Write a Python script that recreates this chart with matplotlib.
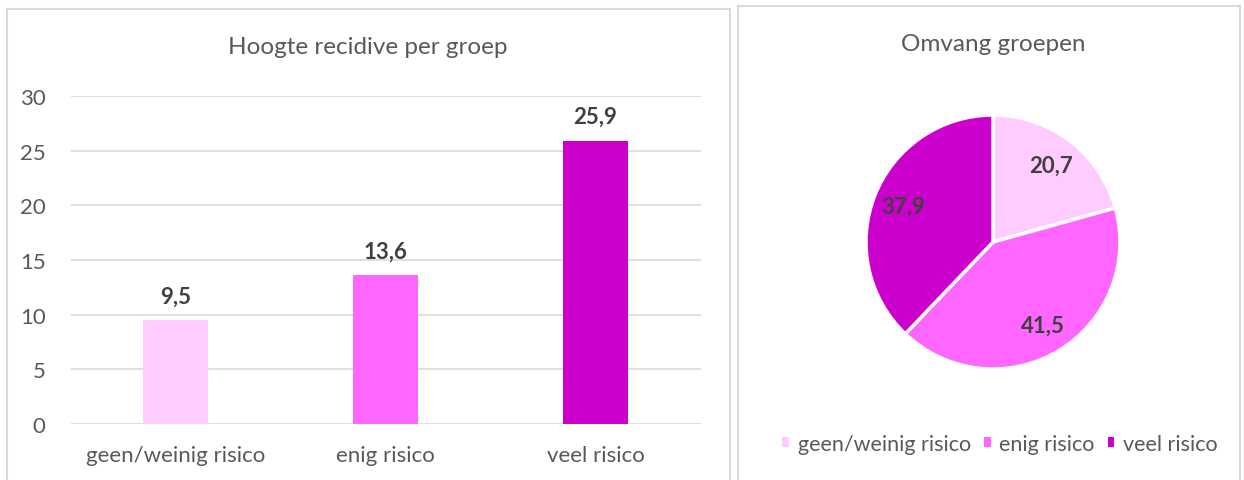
import matplotlib
matplotlib.use("Agg")
import matplotlib.pyplot as plt
from matplotlib.patches import Rectangle, Patch

plt.rcParams['font.family'] = ['Lato', 'DejaVu Sans']

categories = ["geen/weinig risico", "enig risico", "veel risico"]
recidive = [9.5, 13.6, 25.9]
omvang = [20.7, 41.5, 37.9]
colors = ["#FFCCFF", "#FF66FF", "#CC00CC"]
yticks = [0, 5, 10, 15, 20, 25, 30]

W, H = 1244, 481
fig = plt.figure(figsize=(W / 100, H / 100), dpi=100)

def fx(px):
    return px / W

def fy(py):
    return 1 - py / H

# panel borders
fig.add_artist(Rectangle((fx(7), fy(490)), fx(730 - 7), (490 - 10) / H,
                         transform=fig.transFigure, fill=False,
                         edgecolor="#D9D9D9", linewidth=1.5))
fig.add_artist(Rectangle((fx(738), fy(490)), fx(1240 - 738), (490 - 7) / H,
                         transform=fig.transFigure, fill=False,
                         edgecolor="#D9D9D9", linewidth=1.5))

text_col = "#595959"
label_col = "#404040"

# bar chart
ax = fig.add_axes([fx(70.5), fy(425), fx(630), 328 / H])
x = range(len(categories))
bars = ax.bar(x, recidive, width=0.31, color=colors, zorder=3)
ax.set_xlim(-0.5, 2.5)
ax.set_ylim(0, 30)
ax.set_yticks(yticks)
ax.set_yticklabels([str(v) for v in yticks])
ax.set_xticks(list(x))
ax.set_xticklabels(categories)
ax.grid(axis="y", color="#D9D9D9", linewidth=1.2, zorder=0)
for s in ax.spines.values():
    s.set_visible(False)
ax.tick_params(axis="both", length=0, labelsize=16, colors=text_col)
ax.tick_params(axis="y", pad=18)
ax.tick_params(axis="x", pad=15)
for b, v in zip(bars, recidive):
    ax.annotate(f"{v:.1f}".replace(".", ","), (b.get_x() + b.get_width() / 2, v),
                xytext=(0, 10), textcoords="offset points", ha="center", va="bottom",
                fontsize=16, fontweight="bold", color=label_col)
fig.text(fx(368), fy(48), "Hoogte recidive per groep", ha="center", va="center",
         fontsize=17.5, color=text_col)

# pie chart
r = 127
pax = fig.add_axes([fx(993 - r), fy(243 + r), fx(2 * r), 2 * r / H])
wedges, texts = pax.pie(omvang, colors=colors, startangle=90, counterclock=False,
                        labels=[f"{v:.1f}".replace(".", ",") for v in omvang],
                        labeldistance=0.76,
                        wedgeprops=dict(edgecolor="white", linewidth=2.5))
for t in texts:
    t.set_ha("center")
    t.set_va("center")
    t.set_fontsize(16)
    t.set_fontweight("bold")
    t.set_color(label_col)
pax.set_xlim(-1, 1)
pax.set_ylim(-1, 1)
pax.set_aspect("equal")
fig.text(fx(993), fy(45), "Omvang groepen", ha="center", va="center",
         fontsize=17.5, color=text_col)

handles = [Patch(facecolor=c, edgecolor="none") for c in colors]
fig.legend(handles, categories, loc="center", bbox_to_anchor=(fx(1000), fy(445)),
           ncol=3, frameon=False, fontsize=15.5, handlelength=0.32, handleheight=0.32,
           handletextpad=0.4, columnspacing=0.6, labelcolor=text_col)

fig.savefig("out.png", dpi=100)
